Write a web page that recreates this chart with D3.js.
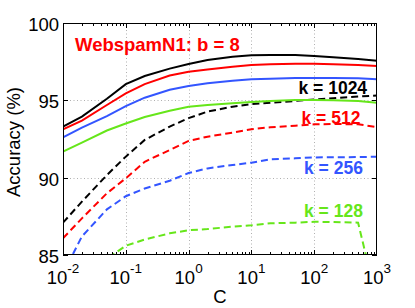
<!DOCTYPE html>
<html>
<head>
<meta charset="utf-8">
<script src="https://cdn.jsdelivr.net/npm/d3@7"></script>
<style>
  html, body { margin: 0; padding: 0; background: #fff; }
  svg { display: block; font-family: "Liberation Sans", Arial, Helvetica, sans-serif; }
</style>
</head>
<body>
<svg id="chart" width="415" height="308"></svg>
<script>
// ---- data ----
const C = [0.01, 0.02, 0.05, 0.1, 0.2, 0.5, 1, 2, 5, 10, 20, 50, 100, 200, 500, 1000];

// solid lines (original data)
const solid1024 = [93.30, 93.95, 95.10, 96.05, 96.57, 97.05, 97.35, 97.61, 97.82, 97.91, 97.93, 97.93, 97.87, 97.78, 97.67, 97.56];
const solid512  = [93.13, 93.69, 94.70, 95.45, 96.05, 96.60, 96.85, 97.00, 97.17, 97.28, 97.33, 97.36, 97.36, 97.33, 97.28, 97.22];
const solid256  = [92.61, 93.23, 93.98, 94.62, 95.17, 95.68, 95.93, 96.10, 96.27, 96.36, 96.40, 96.45, 96.45, 96.45, 96.42, 96.36];
const solid128  = [91.68, 92.26, 93.05, 93.50, 93.92, 94.33, 94.59, 94.70, 94.81, 94.89, 94.96, 95.02, 95.02, 95.00, 94.96, 94.85];

// dashed lines
const dash1024 = [87.09, 88.45, 90.17, 91.36, 92.44, 93.30, 93.85, 94.27, 94.59, 94.76, 94.85, 94.96, 95.06, 95.13, 95.24, 95.32];
const dash512  = [86.08, 87.37, 88.99, 89.96, 91.03, 91.79, 92.38, 92.65, 92.91, 93.13, 93.26, 93.36, 93.45, 93.47, 93.45, 93.27];
const dash256  = [83.80, 86.20, 87.95, 88.80, 89.30, 89.80, 90.30, 90.60, 90.82, 90.97, 91.19, 91.25, 91.31, 91.32, 91.33, 91.36];
const dash128  = [80.00, 82.50, 84.75, 85.60, 86.00, 86.40, 86.60, 86.68, 86.83, 86.92, 87.05, 87.09, 87.15, 87.13, 87.09, 82.00];

const kLabels = ["k = 1024", "k = 512", "k = 256", "k = 128"];
const seriesColors = ["#000000", "#ff0000", "#3355ff", "#66e61a"];
const yTicks = [85, 90, 95, 100];
const xTickExps = [-2, -1, 0, 1, 2, 3];
const titleText = "WebspamN1: b = 8";
const xLabel = "C";
const yLabel = "Accuracy (%)";

// ---- layout ----
const svg = d3.select("#chart");
const L = 63, R = 377, T = 23, B = 255;
const x = d3.scaleLog().domain([0.01, 1000]).range([L, R]);
const y = d3.scaleLinear().domain([85, 100]).range([B, T]);

svg.append("defs").append("clipPath").attr("id", "clip")
  .append("rect").attr("x", L).attr("y", T).attr("width", R - L).attr("height", B - T);

// grid
const gridG = svg.append("g").attr("stroke", "#b0b0b0").attr("stroke-width", 1).attr("stroke-dasharray", "1,2.5");
xTickExps.slice(1, -1).forEach(e => {
  const px = Math.round(x(Math.pow(10, e))) + 0.5;
  gridG.append("line").attr("x1", px).attr("x2", px).attr("y1", T).attr("y2", B);
});
yTicks.slice(1, -1).forEach(v => {
  const py = Math.round(y(v)) + 0.5;
  gridG.append("line").attr("x1", L).attr("x2", R).attr("y1", py).attr("y2", py);
});

// lines
const plotG = svg.append("g").attr("clip-path", "url(#clip)");
const line = d3.line().x((d, i) => x(C[i])).y(d => y(d));
const solids = [solid1024, solid512, solid256, solid128];
const dashes = [dash1024, dash512, dash256, dash128];
dashes.forEach((s, i) => {
  plotG.append("path").attr("d", line(s)).attr("fill", "none")
    .attr("stroke", seriesColors[i]).attr("stroke-width", 2)
    .attr("stroke-dasharray", "7,4");
});
solids.forEach((s, i) => {
  plotG.append("path").attr("d", line(s)).attr("fill", "none")
    .attr("stroke", seriesColors[i]).attr("stroke-width", 2);
});

// axes box and ticks
const axG = svg.append("g").attr("stroke", "#000").attr("stroke-width", 1);
axG.append("rect").attr("x", L + 0.5).attr("y", T + 0.5).attr("width", R - L - 1).attr("height", B - T - 1)
  .attr("fill", "none");
for (let e = -2; e < 3; e++) {
  for (let m = 1; m <= 9; m++) {
    const v = m * Math.pow(10, e);
    const px = Math.round(x(v)) + 0.5;
    const len = m === 1 ? 5 : 3;
    axG.append("line").attr("x1", px).attr("x2", px).attr("y1", B).attr("y2", B - len);
    axG.append("line").attr("x1", px).attr("x2", px).attr("y1", T).attr("y2", T + len);
  }
}
yTicks.forEach(v => {
  const py = Math.round(y(v)) + 0.5;
  axG.append("line").attr("x1", L).attr("x2", L + 5).attr("y1", py).attr("y2", py);
  axG.append("line").attr("x1", R).attr("x2", R - 5).attr("y1", py).attr("y2", py);
});

// tick labels
yTicks.forEach(v => {
  svg.append("text").attr("x", 59).attr("y", y(v) + 8)
    .attr("text-anchor", "end").attr("font-size", 18.5).attr("fill", "#000").text(v);
});
xTickExps.forEach(e => {
  const t = svg.append("text").attr("x", x(Math.pow(10, e))).attr("y", 284)
    .attr("text-anchor", "middle").attr("font-size", 18.5).attr("fill", "#000");
  t.append("tspan").text("10");
  t.append("tspan").attr("dy", -11).attr("font-size", 13.5).text(e < 0 ? "-" + Math.abs(e) : String(e));
});

// axis labels
svg.append("text").attr("x", (L + R) / 2).attr("y", 302.5).attr("text-anchor", "middle")
  .attr("font-size", 18.5).text(xLabel);
svg.append("text").attr("transform", "translate(19.5," + ((T + B) / 2 + 3) + ") rotate(-90)")
  .attr("text-anchor", "middle").attr("font-size", 18.5).text(yLabel);

// title inside
svg.append("text").attr("x", 75).attr("y", 51).attr("font-size", 18.5).attr("font-weight", "bold")
  .attr("fill", "#ff0000").text(titleText);

// k labels
const kPos = [[298.5, 93.5], [301.5, 123.5], [304, 173.5], [304, 217]];
kLabels.forEach((s, i) => {
  svg.append("text").attr("x", kPos[i][0]).attr("y", kPos[i][1]).attr("font-size", 17.5)
    .attr("font-weight", "bold").attr("fill", seriesColors[i]).text(s);
});
</script>
</body>
</html>
